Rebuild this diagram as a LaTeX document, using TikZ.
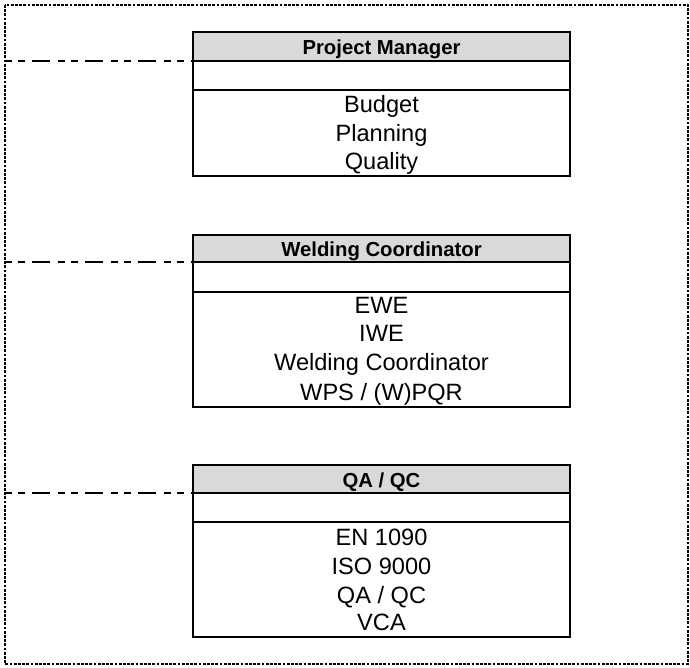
\documentclass[tikz,border=0pt]{standalone}
\usepackage{fontspec}
\setmainfont{Liberation Sans}
\definecolor{headgray}{RGB}{217,217,217}
\begin{document}
\begin{tikzpicture}[x=1pt,y=-1pt,
  frame/.style={draw, line width=2.8pt, dash pattern=on 2.8pt off 1.4pt},
  boxpart/.style={draw, line width=2.8pt, minimum width=377pt, inner sep=0pt, outer sep=0pt, anchor=north west},
  headpart/.style={boxpart, fill=headgray},
  headtxt/.style={anchor=base, inner sep=0pt, font=\fontsize{20.3}{24}\selectfont\bfseries},
  bodytxt/.style={anchor=base, inner sep=0pt, font=\fontsize{23.6}{28}\selectfont},
  conn/.style={line width=2.8pt, dash pattern=on 7pt off 6pt on 7pt off 7pt on 18pt off 8pt}]
\useasboundingbox (0,0) rectangle (690,668);
\draw[frame] (5,5) rectangle (688,664);

% Project Manager
\node[boxpart, minimum height=86pt] (b1) at (193,90) {};
\node[boxpart, minimum height=29pt] (m1) at (193,61) {};
\node[headpart, minimum height=29pt] (h1) at (193,32) {};
\node[headtxt] (t1) at (381.5,55) {Project Manager};
\node[bodytxt] (t1a) at (381.5,113) {Budget};
\node[bodytxt] (t1b) at (381.5,141.5) {Planning};
\node[bodytxt] (t1c) at (381.5,170) {Quality};

% Welding Coordinator
\node[boxpart, minimum height=115pt] (b2) at (193,292) {};
\node[boxpart, minimum height=30pt] (m2) at (193,262) {};
\node[headpart, minimum height=27pt] (h2) at (193,235) {};
\node[headtxt] (t2) at (381.5,256.5) {Welding Coordinator};
\node[bodytxt] (t2a) at (381.5,313) {EWE};
\node[bodytxt] (t2b) at (381.5,341.7) {IWE};
\node[bodytxt] (t2c) at (381.5,370.7) {Welding Coordinator};
\node[bodytxt] (t2d) at (381.5,400) {WPS / (W)PQR};

% QA / QC
\node[boxpart, minimum height=115pt] (b3) at (193,522) {};
\node[boxpart, minimum height=29pt] (m3) at (193,493) {};
\node[headpart, minimum height=28pt] (h3) at (193,465) {};
\node[headtxt] (t3) at (381.5,487.5) {QA / QC};
\node[bodytxt] (t3a) at (381.5,545) {EN 1090};
\node[bodytxt] (t3b) at (381.5,574) {ISO 9000};
\node[bodytxt] (t3c) at (381.5,603.3) {QA / QC};
\node[bodytxt] (t3d) at (381.5,630.7) {VCA};

% connectors
\coordinate (l1) at (5,61);
\coordinate (l2) at (5,262);
\coordinate (l3) at (5,493);
\draw[conn] (l1) -- (h1.south west);
\draw[conn] (l2) -- (h2.south west);
\draw[conn] (l3) -- (h3.south west);
\end{tikzpicture}
\end{document}
